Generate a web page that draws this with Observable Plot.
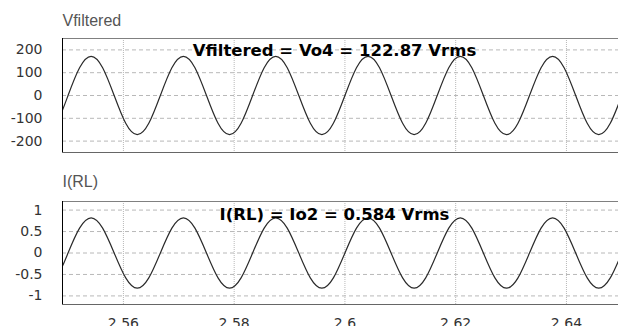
<!DOCTYPE html>
<html>
<head>
<meta charset="utf-8">
<script src="https://cdn.jsdelivr.net/npm/d3@7"></script>
<script src="https://cdn.jsdelivr.net/npm/@observablehq/plot@0.6"></script>
<style>
  html, body { margin: 0; padding: 0; background: #fff; }
  #chart { width: 618px; height: 326px; overflow: hidden; position: relative; }
  #chart svg { display: block; }
</style>
</head>
<body>
<div id="chart"></div>
<script>
// ---- data ----
const time = [2.545833, 2.547917, 2.55, 2.552083, 2.554167, 2.55625, 2.558333, 2.560417,
  2.5625, 2.564583, 2.566667, 2.56875, 2.570833, 2.572917, 2.575, 2.577083,
  2.579167, 2.58125, 2.583333, 2.585417, 2.5875, 2.589583, 2.591667, 2.59375,
  2.595833, 2.597917, 2.6, 2.602083, 2.604167, 2.60625, 2.608333, 2.610417,
  2.6125, 2.614583, 2.616667, 2.61875, 2.620833, 2.622917, 2.625, 2.627083,
  2.629167, 2.63125, 2.633333, 2.635417, 2.6375, 2.639583, 2.641667, 2.64375,
  2.645833, 2.647917, 2.65];
const vfiltered = [-172, -122, 0, 122, 172, 122, 0, -122,
  -172, -122, 0, 122, 172, 122, 0, -122,
  -172, -122, 0, 122, 172, 122, 0, -122,
  -172, -122, 0, 122, 172, 122, 0, -122,
  -172, -122, 0, 122, 172, 122, 0, -122,
  -172, -122, 0, 122, 172, 122, 0, -122,
  -172, -122, 0];
const irl = [-0.82, -0.58, 0, 0.58, 0.82, 0.58, 0, -0.58,
  -0.82, -0.58, 0, 0.58, 0.82, 0.58, 0, -0.58,
  -0.82, -0.58, 0, 0.58, 0.82, 0.58, 0, -0.58,
  -0.82, -0.58, 0, 0.58, 0.82, 0.58, 0, -0.58,
  -0.82, -0.58, 0, 0.58, 0.82, 0.58, 0, -0.58,
  -0.82, -0.58, 0, 0.58, 0.82, 0.58, 0, -0.58,
  -0.82, -0.58, 0];

const xDomain = [2.549, 2.6494];
const xTicks = [2.56, 2.58, 2.6, 2.62, 2.64];
const xTickLabels = ["2.56", "2.58", "2.6", "2.62", "2.64"];

const vDomain = [-250, 250];
const vTicks = [-200, -100, 0, 100, 200];
const vTickLabels = ["-200", "-100", "0", "100", "200"];

const iDomain = [-1.2, 1.2];
const iTicks = [-1, -0.5, 0, 0.5, 1];
const iTickLabels = ["-1", "-0.5", "0", "0.5", "1"];

const titles = ["Vfiltered", "I(RL)"];
const notes = ["Vfiltered = Vo4 = 122.87 Vrms", "I(RL) = Io2 = 0.584 Vrms"];

// ---- build ----
const dataV = time.map((t, k) => ({t, v: vfiltered[k]}));
const dataI = time.map((t, k) => ({t, v: irl[k]}));

function panel({data, yDomain, yTicks, yLabels, title, note, height, marginTop, marginBottom, showX, titleDy, noteDy}) {
  return Plot.plot({
    width: 618,
    height,
    marginLeft: 62,
    marginRight: 0,
    marginTop,
    marginBottom,
    style: {fontFamily: "DejaVu Sans", fontSize: "14px", color: "#333", background: "#fff", overflow: "hidden"},
    x: {domain: xDomain, ticks: xTicks, tickFormat: d => xTickLabels[xTicks.indexOf(d)], tickSize: 0, tickPadding: 14, label: null, axis: showX ? "bottom" : null},
    y: {domain: yDomain, ticks: yTicks, tickFormat: d => yLabels[yTicks.indexOf(d)], tickSize: 0, tickPadding: 20, label: null},
    marks: [
      Plot.ruleY(yTicks, {stroke: "#b8b8b8", strokeDasharray: "4,3"}),
      Plot.ruleX(xTicks, {stroke: "#b8b8b8", strokeDasharray: "1,1"}),
      Plot.line(data, {x: "t", y: "v", curve: "natural", stroke: "#2a2a2a", strokeWidth: 1.2, clip: true}),
      Plot.ruleY([yDomain[1]], {stroke: "#808080"}),
      Plot.ruleY([yDomain[0]], {stroke: "#666"}),
      Plot.ruleX([xDomain[0]], {stroke: "#000"}),
      Plot.text([title], {text: d => d, frameAnchor: "top-left", textAnchor: "start", lineAnchor: "bottom", dy: titleDy, fontFamily: "Liberation Sans", fontSize: 16, fill: "#555"}),
      Plot.text([note], {text: d => d, frameAnchor: "top", textAnchor: "middle", lineAnchor: "bottom", dx: -6, dy: noteDy, fontFamily: "DejaVu Sans", fontWeight: "bold", fontSize: 16.5, fill: "#000"})
    ]
  });
}

const chart = document.getElementById("chart");
chart.append(panel({data: dataV, yDomain: vDomain, yTicks: vTicks, yLabels: vTickLabels, title: titles[0], note: notes[0],
  height: 160, marginTop: 38, marginBottom: 8, showX: false, titleDy: -13, noteDy: 17}));
chart.append(panel({data: dataI, yDomain: iDomain, yTicks: iTicks, yLabels: iTickLabels, title: titles[1], note: notes[1],
  height: 166, marginTop: 41, marginBottom: 22, showX: true, titleDy: -14.5, noteDy: 18}));
</script>
</body>
</html>
